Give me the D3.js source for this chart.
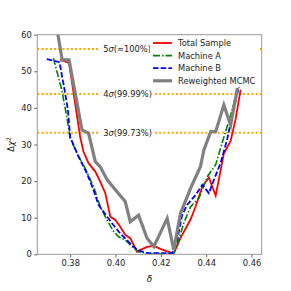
<!DOCTYPE html>
<html>
<head>
<meta charset="utf-8">
<script src="https://cdn.jsdelivr.net/npm/d3@7/dist/d3.min.js"></script>
<style>
  body { margin: 0; background: #fff; }
  svg { display: block; font-family: "DejaVu Sans", sans-serif; }
</style>
</head>
<body>
<svg id="chart" width="291" height="291"></svg>
<script>
// data: [delta, delta chi^2]
const totalSample = [
  [0.3755, 53.2], [0.3795, 52.3], [0.3844, 32.1], [0.3859, 28.0], [0.3881, 24.9],
  [0.3911, 22.6], [0.3933, 19.8], [0.3955, 16.7], [0.3977, 10.3], [0.3999, 9.4],
  [0.4021, 7.5], [0.4043, 5.3], [0.4065, 4.4], [0.4095, 0.7], [0.4110, 1.2],
  [0.4139, 2.0], [0.4169, 2.3], [0.4198, 1.5], [0.4228, 0.8], [0.4257, 0.2],
  [0.4287, 4.5], [0.4331, 9.5], [0.4353, 13.0], [0.4383, 18.5], [0.4412, 21.0],
  [0.4442, 16.0], [0.4478, 27.5], [0.4508, 31.0], [0.4530, 37.0], [0.4552, 45.0]
]
const machineA = [
  [0.3726, 53.6], [0.3763, 44.9], [0.3785, 37.6], [0.3800, 31.8], [0.3830, 27.6],
  [0.3866, 23.5], [0.3903, 18.5], [0.3933, 13.0], [0.3962, 9.4], [0.3992, 6.2],
  [0.4014, 4.8], [0.4043, 3.9], [0.4073, 2.1], [0.4102, 0.7], [0.4154, 0.1],
  [0.4257, 0.2], [0.4279, 3.9], [0.4301, 8.5], [0.4331, 13.0], [0.4368, 15.3],
  [0.4405, 21.2], [0.4442, 24.5], [0.4478, 32.0], [0.4508, 38.0], [0.4545, 46.5]
]
const machineB = [
  [0.3697, 53.3], [0.3753, 52.5], [0.3775, 45.0], [0.3790, 39.5], [0.3800, 32.0],
  [0.3837, 26.7], [0.3874, 22.1], [0.3903, 17.6], [0.3925, 13.5], [0.3947, 11.6],
  [0.3984, 8.5], [0.4021, 5.7], [0.4058, 3.4], [0.4095, 1.2], [0.4139, 0.3],
  [0.4250, 0.3], [0.4272, 3.9], [0.4294, 10.7], [0.4316, 13.5], [0.4353, 16.2],
  [0.4383, 19.0], [0.4412, 16.7], [0.4434, 20.3], [0.4464, 25.0], [0.4493, 31.5],
  [0.4515, 38.0], [0.4545, 46.0]
]
const reweightedMCMC = [
  [0.3735, 64.0], [0.3765, 53.1], [0.3795, 53.1], [0.3852, 34.0], [0.3881, 33.1],
  [0.3911, 25.3], [0.3933, 23.9], [0.3962, 20.5], [0.4000, 17.6], [0.4043, 14.4],
  [0.4065, 8.9], [0.4102, 10.7], [0.4139, 4.4], [0.4169, 2.1], [0.4228, 9.8],
  [0.4257, 1.2], [0.4287, 11.2], [0.4331, 18.0], [0.4375, 24.0], [0.4390, 28.5],
  [0.4420, 33.5], [0.4442, 33.5], [0.4478, 40.8], [0.4508, 35.3], [0.4538, 45.4]
]

const sigmaLevels = [56.1, 43.8, 33.2]
const sigmaNumbers = ["5", "4", "3"]
const sigmaConfidences = ["(≈100%)", "(99.99%)", "(99.73%)"]

const xTicks = [0.38, 0.40, 0.42, 0.44, 0.46]
const yTicks = [0, 10, 20, 30, 40, 50, 60]

const seriesNames = ["Total Sample", "Machine A", "Machine B", "Reweighted MCMC"]

// ------------------------------------------
// drawing
// ------------------------------------------

const margin = {left: 37.3, top: 34.7, right: 29.3, bottom: 36.7}
const width = 291 - margin.left - margin.right
const height = 291 - margin.top - margin.bottom
const fontSize = 8.3

const svg = d3.select("#chart")
const g = svg.append("g").attr("transform", `translate(${margin.left},${margin.top})`)

const x = d3.scaleLinear().domain([0.3655, 0.4645]).range([0, width])
const y = d3.scaleLinear().domain([0, 60]).range([height, 0])

svg.append("defs").append("clipPath").attr("id", "plot-clip")
  .append("rect").attr("width", width).attr("height", height)

const styles = [
  {data: totalSample, color: "#ff0000", width: 1.8, dash: null},
  {data: machineA, color: "#008000", width: 1.6, dash: "7,2,1.5,2"},
  {data: machineB, color: "#0000ff", width: 1.8, dash: "5.5,2.2"},
  {data: reweightedMCMC, color: "#808080", width: 3.2, dash: null}
]

let line = d3.line().x(d => x(d[0])).y(d => y(d[1]))

let plot = g.append("g").attr("clip-path", "url(#plot-clip)")

// sigma lines
plot.selectAll(".sigma").data(sigmaLevels).join("line")
  .attr("x1", 0).attr("x2", width)
  .attr("y1", d => y(d)).attr("y2", d => y(d))
  .attr("stroke", "#ffa500").attr("stroke-width", 2)
  .attr("stroke-dasharray", "2,2.2")

styles.forEach(s => {
  plot.append("path")
    .datum(s.data)
    .attr("d", line)
    .attr("fill", "none")
    .attr("stroke", s.color)
    .attr("stroke-width", s.width)
    .attr("stroke-linejoin", "miter")
    .attr("stroke-dasharray", s.dash)
})

// sigma labels with white box
sigmaLevels.forEach((lvl, i) => {
  let lx = x(0.3946)
  let t = g.append("text")
    .attr("x", lx).attr("y", y(lvl))
    .attr("dy", "0.35em")
    .attr("font-size", fontSize)
    .attr("fill", "#222")
  t.append("tspan").text(sigmaNumbers[i])
  t.append("tspan").attr("font-style", "italic").text("σ")
  t.append("tspan").text(sigmaConfidences[i])
  let bb = t.node().getBBox()
  g.insert("rect", "text")
    .attr("x", bb.x - 3).attr("y", bb.y)
    .attr("width", bb.width + 6).attr("height", bb.height)
    .attr("fill", "#fff")
})

// axes
let xAxis = d3.axisBottom(x).tickValues(xTicks).tickFormat(d3.format(".2f")).tickSizeOuter(0).tickSize(3).tickPadding(2.5)
let yAxis = d3.axisLeft(y).tickValues(yTicks).tickSizeOuter(0).tickSize(3).tickPadding(2.5)

let xg = g.append("g").attr("transform", `translate(0,${height})`).call(xAxis)
let yg = g.append("g").call(yAxis)
;[xg, yg].forEach(a => {
  a.select(".domain").remove()
  a.selectAll("text").attr("font-size", fontSize).attr("font-family", "DejaVu Sans").attr("fill", "#222")
  a.selectAll("line").attr("stroke", "#333").attr("stroke-width", 0.8)
})

// frame
g.append("rect")
  .attr("width", width).attr("height", height)
  .attr("fill", "none").attr("stroke", "#9a9a9a").attr("stroke-width", 1)

// axis labels
g.append("text")
  .attr("x", width / 2).attr("y", height + 28)
  .attr("text-anchor", "middle")
  .attr("font-size", 9).attr("font-style", "italic")
  .attr("fill", "#222")
  .text("δ")

g.append("text")
  .attr("transform", `translate(${-23},${height / 2}) rotate(-90)`)
  .attr("text-anchor", "middle")
  .attr("font-size", fontSize)
  .attr("fill", "#222")
  .html('Δ<tspan font-style="italic">χ</tspan><tspan dy="-3" font-size="6">2</tspan>')

// legend
let legend = g.append("g").attr("transform", `translate(${150 - margin.left},${36 - margin.top})`)
legend.append("rect").attr("width", 109).attr("height", 51).attr("fill", "#fff")
styles.forEach((s, i) => {
  let ly = 7 + i * 12.6
  legend.append("line")
    .attr("x1", 3).attr("x2", 22)
    .attr("y1", ly).attr("y2", ly)
    .attr("stroke", s.color).attr("stroke-width", s.width)
    .attr("stroke-dasharray", s.dash)
  legend.append("text")
    .attr("x", 28).attr("y", ly).attr("dy", "0.35em")
    .attr("font-size", fontSize).attr("fill", "#222")
    .text(seriesNames[i])
})
</script>
</body>
</html>
